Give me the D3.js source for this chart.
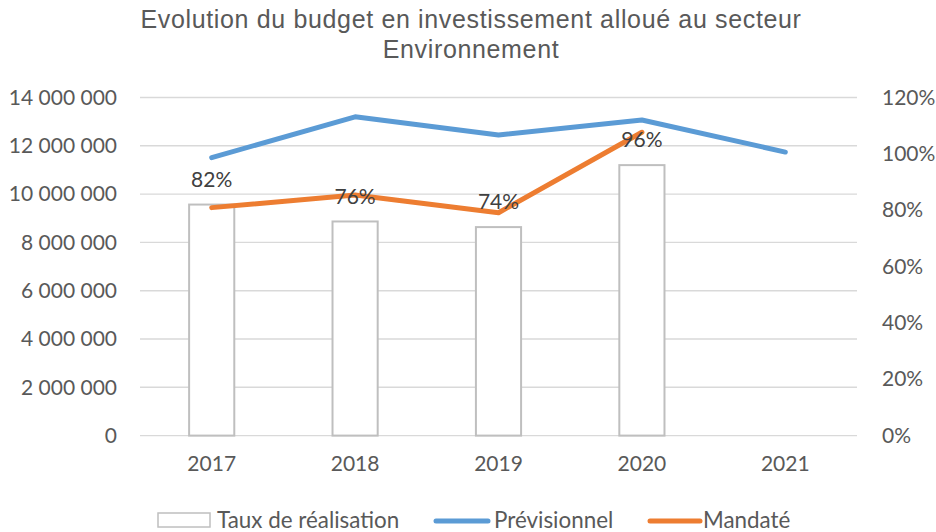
<!DOCTYPE html>
<html>
<head>
<meta charset="utf-8">
<script src="https://cdn.jsdelivr.net/npm/d3@7"></script>
<style>
  html, body { margin: 0; padding: 0; background: #fff; }
  svg { display: block; }
</style>
</head>
<body>
<svg id="chart" width="936" height="532"></svg>
<script>
// Budget d'investissement – secteur Environnement
const years = ["2017", "2018", "2019", "2020", "2021"];
const previsionnel = [11510000, 13200000, 12450000, 13070000, 11740000];
const mandate = [9440000, 9960000, 9230000, 12560000];
const tauxRealisation = [0.82, 0.76, 0.74, 0.96];
const leftTicks = [0, 2000000, 4000000, 6000000, 8000000, 10000000, 12000000, 14000000];
const rightTicks = [0, 0.2, 0.4, 0.6, 0.8, 1.0, 1.2];
const titleLines = ["Evolution du budget en investissement alloué au secteur", "Environnement"];
const legendLabels = ["Taux de réalisation", "Prévisionnel", "Mandaté"];

const W = 936, H = 532;
const plot = { left: 140, right: 857, top: 97.5, bottom: 435.6 };
const axisFont = "Lato, 'Open Sans', sans-serif";
const textColor = "#595959";
const blue = "#5b9bd5", orange = "#ed7d31";

const svg = d3.select("#chart");

const x = d3.scaleBand().domain(years).range([plot.left, plot.right]).padding(0);
const cx = d => x(d) + x.bandwidth() / 2;
const yL = d3.scaleLinear().domain([0, 14000000]).range([plot.bottom, plot.top]);
const yR = d3.scaleLinear().domain([0, 1.2]).range([plot.bottom, plot.top]);

const fmtSpace = v => d3.format(",")(v).replace(/,/g, " ");
const fmtPct = d3.format(".0%");

// Title
svg.append("g").selectAll("text").data(titleLines).join("text")
  .attr("x", 471).attr("y", (d, i) => 28 + i * 30)
  .attr("text-anchor", "middle")
  .attr("font-family", "'Liberation Sans', Arial, sans-serif")
  .attr("font-size", 25).attr("letter-spacing", 0.65).attr("fill", textColor)
  .text(d => d);

// Horizontal gridlines
svg.append("g").selectAll("line").data(leftTicks).join("line")
  .attr("x1", plot.left).attr("x2", plot.right)
  .attr("y1", d => yL(d)).attr("y2", d => yL(d))
  .attr("stroke", "#d9d9d9").attr("stroke-width", 1.4);

// Left axis (amounts)
const leftAxis = d3.axisLeft(yL).tickValues(leftTicks).tickFormat(fmtSpace).tickSize(0).tickPadding(23);
const gL = svg.append("g").attr("transform", `translate(${plot.left},0)`).call(leftAxis);
gL.select(".domain").remove();
gL.selectAll("text").attr("font-family", axisFont).attr("font-size", 21).attr("fill", textColor);

// Right axis (percentages)
const rightAxis = d3.axisRight(yR).tickValues(rightTicks).tickFormat(fmtPct).tickSize(0).tickPadding(25);
const gR = svg.append("g").attr("transform", `translate(${plot.right},0)`).call(rightAxis);
gR.select(".domain").remove();
gR.selectAll("text").attr("font-family", axisFont).attr("font-size", 21).attr("fill", textColor);

// Bottom axis (years)
const bottomAxis = d3.axisBottom(x).tickSize(0).tickPadding(20);
const gB = svg.append("g").attr("transform", `translate(0,${plot.bottom})`).call(bottomAxis);
gB.select(".domain").remove();
gB.selectAll("text").attr("font-family", axisFont).attr("font-size", 21).attr("fill", textColor);

// Bars: taux de réalisation (right axis)
const barW = x.bandwidth() * 0.315;
const tauxData = tauxRealisation.map((v, i) => ({ year: years[i], v }));
svg.append("g").selectAll("rect").data(tauxData).join("rect")
  .attr("x", d => cx(d.year) - barW / 2)
  .attr("y", d => yR(d.v))
  .attr("width", barW)
  .attr("height", d => yR(0) - yR(d.v))
  .attr("fill", "#ffffff")
  .attr("stroke", "#bfbfbf").attr("stroke-width", 2);

// Lines
const lineL = d3.line().x(d => cx(d.year)).y(d => yL(d.v));
const prevData = previsionnel.map((v, i) => ({ year: years[i], v }));
const mandData = mandate.map((v, i) => ({ year: years[i], v }));

svg.append("path").datum(prevData).attr("d", lineL)
  .attr("fill", "none").attr("stroke", blue).attr("stroke-width", 5)
  .attr("stroke-linecap", "round").attr("stroke-linejoin", "round");
svg.append("path").datum(mandData).attr("d", lineL)
  .attr("fill", "none").attr("stroke", orange).attr("stroke-width", 5)
  .attr("stroke-linecap", "round").attr("stroke-linejoin", "round");

// Data labels for bars
svg.append("g").selectAll("text").data(tauxData).join("text")
  .attr("x", d => cx(d.year))
  .attr("y", d => yR(d.v) - 25)
  .attr("dy", "0.35em")
  .attr("text-anchor", "middle")
  .attr("font-family", axisFont).attr("font-size", 21).attr("fill", "#404040")
  .text(d => fmtPct(d.v));

// Legend
const lg = svg.append("g").attr("font-family", axisFont).attr("font-size", 22.4).attr("fill", textColor);
const ly = 520;
lg.append("rect").attr("x", 158).attr("y", ly - 7).attr("width", 52).attr("height", 14)
  .attr("fill", "#fff").attr("stroke", "#bfbfbf").attr("stroke-width", 1.5);
lg.append("text").attr("x", 217).attr("y", ly).attr("dy", "0.35em").text(legendLabels[0]);
lg.append("line").attr("x1", 436).attr("x2", 488).attr("y1", ly + 1).attr("y2", ly + 1)
  .attr("stroke", blue).attr("stroke-width", 5).attr("stroke-linecap", "round");
lg.append("text").attr("x", 494).attr("y", ly).attr("dy", "0.35em").text(legendLabels[1]);
lg.append("line").attr("x1", 650).attr("x2", 700).attr("y1", ly + 1).attr("y2", ly + 1)
  .attr("stroke", orange).attr("stroke-width", 5).attr("stroke-linecap", "round");
lg.append("text").attr("x", 703).attr("y", ly).attr("dy", "0.35em").text(legendLabels[2]);
</script>
</body>
</html>
